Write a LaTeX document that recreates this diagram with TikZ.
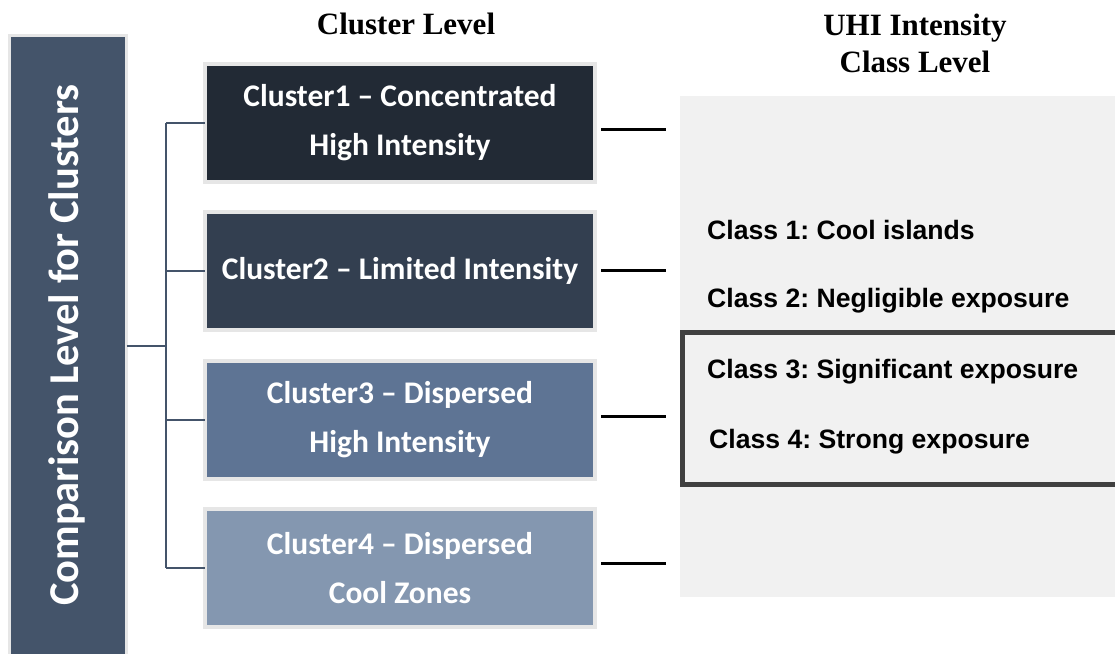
\documentclass[tikz,border=0pt]{standalone}
\usepackage{fontspec}
\setmainfont{Liberation Serif}
\newfontfamily\calfont{Carlito}
\newfontfamily\arialfont{Liberation Sans}
\frenchspacing
\definecolor{barc}{HTML}{44546A}
\definecolor{cone}{HTML}{222A35}
\definecolor{ctwo}{HTML}{333F50}
\definecolor{cthree}{HTML}{5E7494}
\definecolor{cfour}{HTML}{8497B0}
\definecolor{edgec}{HTML}{E6E6E6}
\definecolor{panelc}{HTML}{F1F1F1}
\definecolor{hlc}{HTML}{404040}
\tikzset{
  clbox/.style={draw=edgec, line width=4pt, minimum width=390pt, minimum height=118pt, inner sep=0pt, outer sep=0pt, text=white, align=center, font=\calfont\bfseries\fontsize{31.5}{49}\selectfont},
  tree/.style={draw=barc, line width=2pt},
  stub/.style={draw=black, line width=3pt},
  classtxt/.style={anchor=west, inner sep=0pt, font=\arialfont\bfseries\fontsize{26.6}{30}\selectfont},
  head/.style={font=\bfseries\fontsize{31}{37}\selectfont, align=center, inner sep=0pt}
}
\begin{document}
\begin{tikzpicture}[x=1pt,y=-1pt]
\useasboundingbox (0,0) rectangle (1115,653);
% gray panel
\node[fill=panelc, inner sep=0pt, minimum width=440pt, minimum height=501pt, anchor=north west] (panel) at (680,96) {};
\node[draw=hlc, line width=5pt, inner sep=0pt, minimum width=460pt, minimum height=152pt, anchor=north west] (hl) at (680,330) {};
% left bar
\node[fill=barc, draw=edgec, line width=3pt, minimum width=117pt, minimum height=621pt, inner sep=0pt, outer sep=0pt] (bar) at (68,346.25) {};
\node[rotate=90, text=white, font=\calfont\bfseries\fontsize{42.5}{50}\selectfont] (bartxt) at (67,345) {Comparison Level for Clusters};
% cluster boxes
\node[clbox, fill=cone] (c1) at (400,123) {Cluster1 – Concentrated\\High Intensity};
\node[clbox, fill=ctwo] (c2) at (400,270.5) {Cluster2 – Limited Intensity};
\node[clbox, fill=cthree] (c3) at (400,420) {Cluster3 – Dispersed\\High Intensity};
\node[clbox, fill=cfour] (c4) at (400,568) {Cluster4 – Dispersed\\Cool Zones};
% tree
\coordinate (j) at (166,346.25);
\draw[tree] (bar.east) -- (j);
\draw[tree] (j |- c1.west) -- (j |- c4.west);
\foreach \c in {c1,c2,c3,c4} \draw[tree] (j |- \c.west) -- (\c.west);
% stubs
\draw[stub] ([xshift=6pt,yshift=-6pt]c1.east) -- ++(65,0);
\draw[stub] ([xshift=6pt]c2.east) -- ++(65,0);
\draw[stub] ([xshift=6pt,yshift=4pt]c3.east) -- ++(65,0);
\draw[stub] ([xshift=6pt,yshift=5pt]c4.east) -- ++(65,0);
% class labels
\node[classtxt] (k1) at (707,230) {Class 1: Cool islands};
\node[classtxt] (k2) at (707,301) {Class 2: Negligible exposure};
\node[classtxt] (k3) at (707,372) {Class 3: Significant exposure};
\node[classtxt] (k4) at (709,442) {Class 4: Strong exposure};
% headers
\node[head] (h1) at (406,24) {Cluster Level};
\node[head] (h2) at (915,43.5) {UHI Intensity\\Class Level};
\end{tikzpicture}
\end{document}
